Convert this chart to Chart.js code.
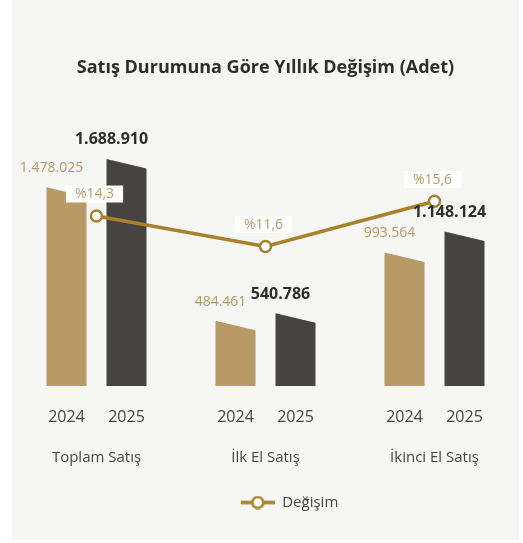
<!DOCTYPE html>
<html>
<head>
<meta charset="utf-8">
<script src="https://cdn.jsdelivr.net/npm/chart.js@4"></script>
<style>
  html, body { margin: 0; padding: 0; background: #fff; }
  #wrap { position: absolute; left: 12px; top: 0; width: 507px; height: 540px; background: #f6f6f5; }
</style>
</head>
<body>
<div id="wrap"><canvas id="chart"></canvas></div>
<script>
// chart data
const categories = ['Toplam Satış', 'İlk El Satış', 'İkinci El Satış'];
const years = ['2024', '2025'];
const sales2024 = [1478025, 484461, 993564];
const sales2025 = [1688910, 540786, 1148124];
const changePct = [14.3, 11.6, 15.6];

const TAN = '#b89a67';
const DARK = '#454443';
const GOLD = '#a8822a';
const FONT = '"Open Sans", sans-serif';

function fmtNum(v) {
    return String(v).replace(/\B(?=(\d{3})+(?!\d))/g, '.');
}
function fmtPct(v) {
    return '%' + v.toFixed(1).replace('.', ',');
}

// legend marker: line with hollow circle (left part is empty space to push it right)
let marker = document.createElement('canvas');
marker.width = 82;
marker.height = 14;
(function () {
    let c = marker.getContext('2d');
    c.strokeStyle = GOLD;
    c.lineWidth = 3.5;
    c.beginPath();
    c.moveTo(48, 7);
    c.lineTo(82, 7);
    c.stroke();
    c.beginPath();
    c.arc(65, 7, 5.5, 0, Math.PI * 2);
    c.fillStyle = '#fff';
    c.fill();
    c.lineWidth = 2.5;
    c.stroke();
})();

const slantedBars = {
    id: 'slantedBars',
    // bars with a sloped top, drawn from the bar elements' own geometry
    beforeDatasetsDraw(chart) {
        let ctx = chart.ctx;
        [0, 1].forEach(di => {
            let meta = chart.getDatasetMeta(di);
            meta.data.forEach(bar => {
                let p = bar.getProps(['x', 'y', 'base', 'width'], true);
                let l = p.x - p.width / 2, r = p.x + p.width / 2;
                ctx.save();
                ctx.fillStyle = di === 0 ? TAN : DARK;
                ctx.beginPath();
                ctx.moveTo(l, p.base);
                ctx.lineTo(l, p.y);
                ctx.lineTo(r, p.y + 9.5);
                ctx.lineTo(r, p.base);
                ctx.closePath();
                ctx.fill();
                ctx.restore();
            });
        });
    },
    afterDatasetsDraw(chart) {
        let ctx = chart.ctx;
        ctx.save();
        ctx.textAlign = 'center';
        ctx.textBaseline = 'middle';
        // bar value labels + year labels under bars
        [0, 1].forEach(di => {
            let meta = chart.getDatasetMeta(di);
            let vals = chart.data.datasets[di].data;
            meta.data.forEach((bar, i) => {
                let p = bar.getProps(['x', 'y', 'base'], true);
                if (di === 0) {
                    ctx.font = '14px ' + FONT;
                    ctx.fillStyle = TAN;
                } else {
                    ctx.font = 'bold 16px ' + FONT;
                    ctx.fillStyle = '#2e2e2e';
                }
                ctx.fillText(fmtNum(vals[i]), p.x - 15, p.y - 19);
                ctx.font = '16px ' + FONT;
                ctx.fillStyle = '#444';
                ctx.fillText(years[di], p.x, p.base + 31);
            });
        });
        // percent labels in white boxes
        let meta = chart.getDatasetMeta(2);
        ctx.font = '14px ' + FONT;
        meta.data.forEach((pt, i) => {
            let txt = fmtPct(changePct[i]);
            let w = ctx.measureText(txt).width + 18;
            let cy = pt.y - 22;
            ctx.fillStyle = '#fff';
            ctx.fillRect(pt.x - 2 - w / 2, cy - 8.5, w, 17);
            ctx.fillStyle = TAN;
            ctx.fillText(txt, pt.x - 2, cy + 0.5);
        });
        ctx.restore();
    }
};

let ctx = document.getElementById('chart').getContext('2d');
let chartInstance = new Chart(ctx, {
    data: {
        labels: categories,
        datasets: [
            {
                type: 'bar',
                label: years[0],
                data: sales2024,
                backgroundColor: 'rgba(0,0,0,0)',
                yAxisID: 'y',
                categoryPercentage: 0.71,
                barPercentage: 0.667,
                order: 2
            },
            {
                type: 'bar',
                label: years[1],
                data: sales2025,
                backgroundColor: 'rgba(0,0,0,0)',
                yAxisID: 'y',
                categoryPercentage: 0.71,
                barPercentage: 0.667,
                order: 2
            },
            {
                type: 'line',
                label: 'Değişim',
                data: changePct,
                yAxisID: 'y1',
                borderColor: GOLD,
                borderWidth: 3.5,
                pointStyle: 'circle',
                pointRadius: 5.5,
                pointBorderWidth: 2.5,
                pointBackgroundColor: '#fff',
                pointBorderColor: GOLD,
                order: 1
            }
        ]
    },
    options: {
        responsive: true,
        maintainAspectRatio: false,
        animation: false,
        layout: { autoPadding: false, padding: { top: 0, left: 0, right: 0, bottom: 20 } },
        scales: {
            x: {
                // tickLength leaves room for the year labels under the bars
                grid: { display: false, drawTicks: true, tickLength: 63 },
                border: { display: false },
                ticks: { color: '#444', font: { family: FONT, size: 15 }, padding: 0 }
            },
            y: {
                display: false,
                min: 0,
                max: 2100000
            },
            y1: {
                display: false,
                min: -0.75,
                max: 24.25
            }
        },
        plugins: {
            title: {
                display: true,
                text: 'Satış Durumuna Göre Yıllık Değişim (Adet)',
                color: '#2e2e2e',
                font: { family: FONT, size: 18, weight: 'bold' },
                padding: { top: 57, bottom: 25 }
            },
            legend: {
                position: 'bottom',
                labels: {
                    usePointStyle: true,
                    pointStyleWidth: 82,
                    generateLabels: chart => [{
                        text: 'Değişim',
                        pointStyle: marker,
                        fontColor: '#444',
                        lineWidth: 0,
                        datasetIndex: 2
                    }],
                    color: '#444',
                    font: { family: FONT, size: 15 },
                    padding: 28
                }
            },
            tooltip: { enabled: false }
        }
    },
    plugins: [slantedBars]
});
</script>
</body>
</html>
